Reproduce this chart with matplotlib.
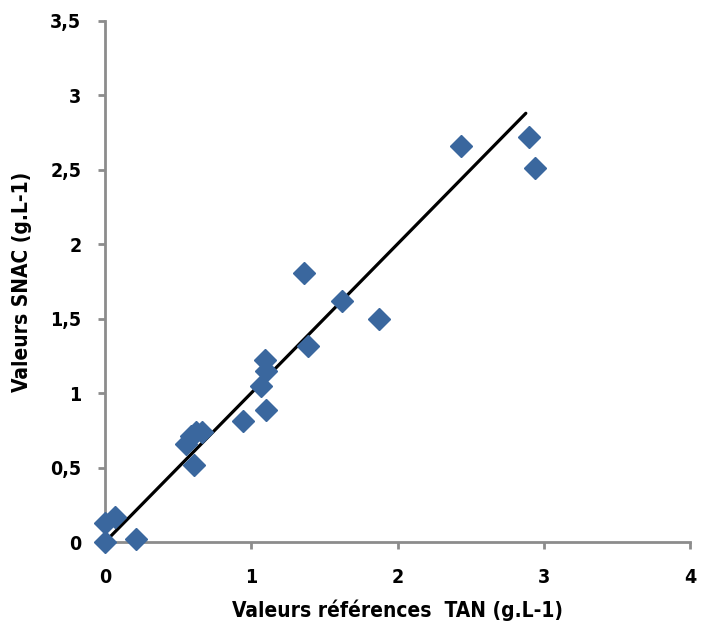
import numpy as np
import matplotlib.pyplot as plt

# valeurs
tan_ref = [0.0, 0.0, 0.07, 0.21, 0.555, 0.59, 0.62, 0.66, 0.61, 0.94, 1.10,
           1.065, 1.10, 1.09, 1.39, 1.36, 1.62, 1.87, 2.43, 2.90, 2.94]
snac = [0.0, 0.13, 0.17, 0.02, 0.66, 0.71, 0.74, 0.74, 0.52, 0.81, 0.89,
        1.05, 1.15, 1.22, 1.32, 1.81, 1.62, 1.50, 2.66, 2.72, 2.51]

# droite de tendance
trend_x = [0.03, 2.875]
trend_y = [0.03, 2.88]

x_ticks = [0, 1, 2, 3, 4]
y_ticks = [0, 0.5, 1, 1.5, 2, 2.5, 3, 3.5]
y_labels = ["0", "0,5", "1", "1,5", "2", "2,5", "3", "3,5"]

plt.rcParams['font.family'] = ['DejaVu Sans']
plt.rcParams['font.stretch'] = 'condensed'

fig = plt.figure(figsize=(7.02, 6.32), dpi=100)
ax = fig.add_axes([0.1496, 0.1424, 0.834, 0.8244])

ax.plot(trend_x, trend_y, color='black', linewidth=2.3, solid_capstyle='round', zorder=2)
ax.plot(tan_ref, snac, linestyle='none', marker='D', markersize=11,
        color='#3A679E', markeredgecolor='#3A679E', zorder=3, clip_on=False)

ax.set_xlim(0, 4)
ax.set_ylim(0, 3.5)
ax.set_xticks(x_ticks)
ax.set_yticks(y_ticks)
ax.set_yticklabels(y_labels)
ax.set_xticklabels([str(v) for v in x_ticks])

for s in ['top', 'right']:
    ax.spines[s].set_visible(False)
for s in ['left', 'bottom']:
    ax.spines[s].set_color('#8c8c8c')
    ax.spines[s].set_linewidth(2)
ax.tick_params(colors='#8c8c8c', width=2, length=5, labelcolor='black',
               labelsize=14)
ax.tick_params(axis='x', pad=14)
ax.tick_params(axis='y', pad=12)
for lab in ax.get_xticklabels() + ax.get_yticklabels():
    lab.set_fontweight('bold')

ax.set_xlabel("Valeurs références  TAN (g.L-1)", fontsize=15, fontweight='bold', labelpad=9)
ax.set_ylabel("Valeurs SNAC (g.L-1)", fontsize=15, fontweight='bold', labelpad=13)

fig.savefig("out.png", dpi=100)
